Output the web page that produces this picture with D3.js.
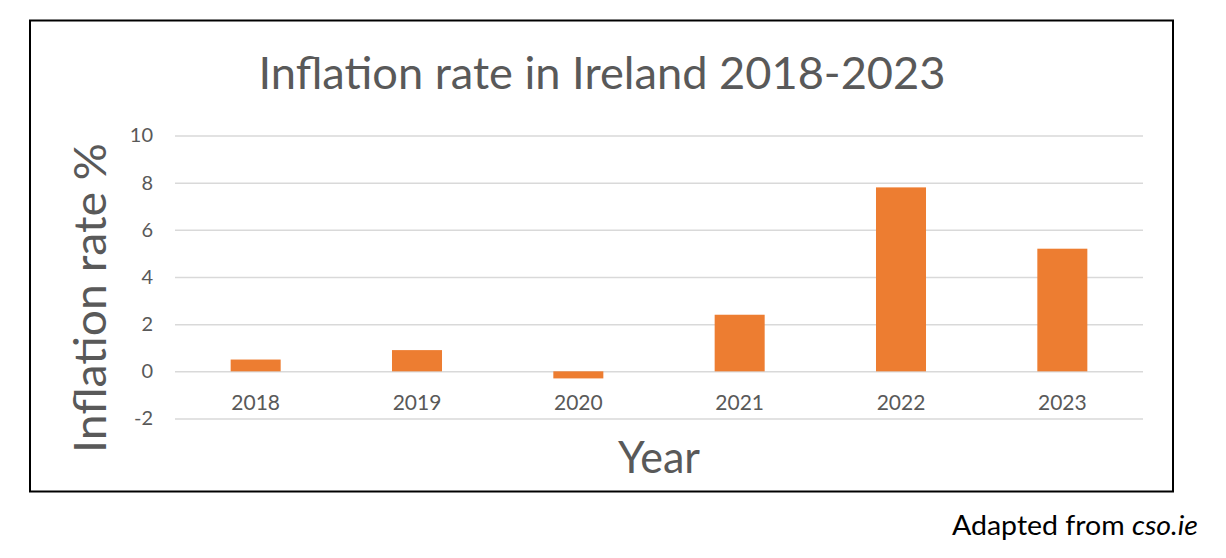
<!DOCTYPE html>
<html>
<head>
<meta charset="utf-8">
<script src="https://cdn.jsdelivr.net/npm/d3@7"></script>
<style>
  html, body { margin: 0; padding: 0; background: #fff; }
  svg { display: block; }
  text { font-family: Lato, "Open Sans", sans-serif; }
</style>
</head>
<body>
<svg id="chart" width="1226" height="558"></svg>
<script>
// ---- data ----
const years = ["2018", "2019", "2020", "2021", "2022", "2023"];
const inflation = [0.5, 0.9, -0.3, 2.4, 7.8, 5.2];
const yTicks = [-2, 0, 2, 4, 6, 8, 10];
const titleText = "Inflation rate in Ireland 2018-2023";
const yLabel = "Inflation rate %";
const xLabel = "Year";
const sourcePlain = "Adapted from ";
const sourceItalic = "cso.ie";

// ---- layout ----
const svg = d3.select("#chart");
const textColor = "#595959";
const plot = { left: 175, right: 1143, top: 135.5, bottom: 418.5 };

const x = d3.scaleBand()
  .domain(years)
  .range([plot.left, plot.right])
  .paddingInner(0.69)
  .paddingOuter(0.345);

const y = d3.scaleLinear()
  .domain([-2, 10])
  .range([plot.bottom, plot.top]);

// frame
svg.append("rect")
  .attr("x", 30).attr("y", 20.5)
  .attr("width", 1143).attr("height", 471)
  .attr("fill", "none")
  .attr("stroke", "#000")
  .attr("stroke-width", 2);

// gridlines + y tick labels
const yAxis = d3.axisLeft(y)
  .tickValues(yTicks)
  .tickSize(-(plot.right - plot.left))
  .tickPadding(22)
  .tickFormat(d => String(d));

const gy = svg.append("g")
  .attr("transform", `translate(${plot.left},0)`)
  .call(yAxis);
gy.select(".domain").remove();
gy.selectAll(".tick line")
  .attr("stroke", "#d9d9d9")
  .attr("stroke-width", 1.5);
gy.selectAll(".tick text")
  .attr("fill", textColor)
  .style("font-size", "20px")
  .style("font-family", "Lato, sans-serif");

// bars
svg.append("g")
  .selectAll("rect")
  .data(years)
  .join("rect")
  .attr("x", d => x(d))
  .attr("width", x.bandwidth())
  .attr("y", (d, i) => Math.min(y(inflation[i]), y(0)))
  .attr("height", (d, i) => Math.abs(y(inflation[i]) - y(0)))
  .attr("fill", "#ED7D31");

// category labels (axis crossing at 0)
const xAxis = d3.axisBottom(x).tickSize(0).tickPadding(24);
const gx = svg.append("g")
  .attr("transform", `translate(0,${y(0)})`)
  .call(xAxis);
gx.select(".domain").remove();
gx.selectAll(".tick text")
  .attr("fill", textColor)
  .style("font-size", "21px")
  .style("font-family", "Lato, sans-serif");

// title
svg.append("text")
  .attr("x", 602).attr("y", 89)
  .attr("text-anchor", "middle")
  .attr("fill", textColor)
  .attr("textLength", 687)
  .attr("lengthAdjust", "spacingAndGlyphs")
  .style("font-size", "44px")
  .text(titleText);

// y axis label
svg.append("text")
  .attr("transform", `translate(106,${(143 + 453) / 2}) rotate(-90)`)
  .attr("text-anchor", "middle")
  .attr("fill", textColor)
  .attr("textLength", 310)
  .attr("lengthAdjust", "spacingAndGlyphs")
  .style("font-size", "44px")
  .text(yLabel);

// x axis label
svg.append("text")
  .attr("x", (plot.left + plot.right) / 2).attr("y", 473)
  .attr("text-anchor", "middle")
  .attr("fill", textColor)
  .attr("textLength", 82)
  .attr("lengthAdjust", "spacingAndGlyphs")
  .style("font-size", "44px")
  .text(xLabel);

// source
const src = svg.append("text")
  .attr("x", 952).attr("y", 535)
  .attr("fill", "#000")
  .attr("textLength", 246)
  .attr("lengthAdjust", "spacingAndGlyphs")
  .style("font-size", "27px");
src.append("tspan").text(sourcePlain);
src.append("tspan").style("font-style", "italic").text(sourceItalic);
</script>
</body>
</html>
